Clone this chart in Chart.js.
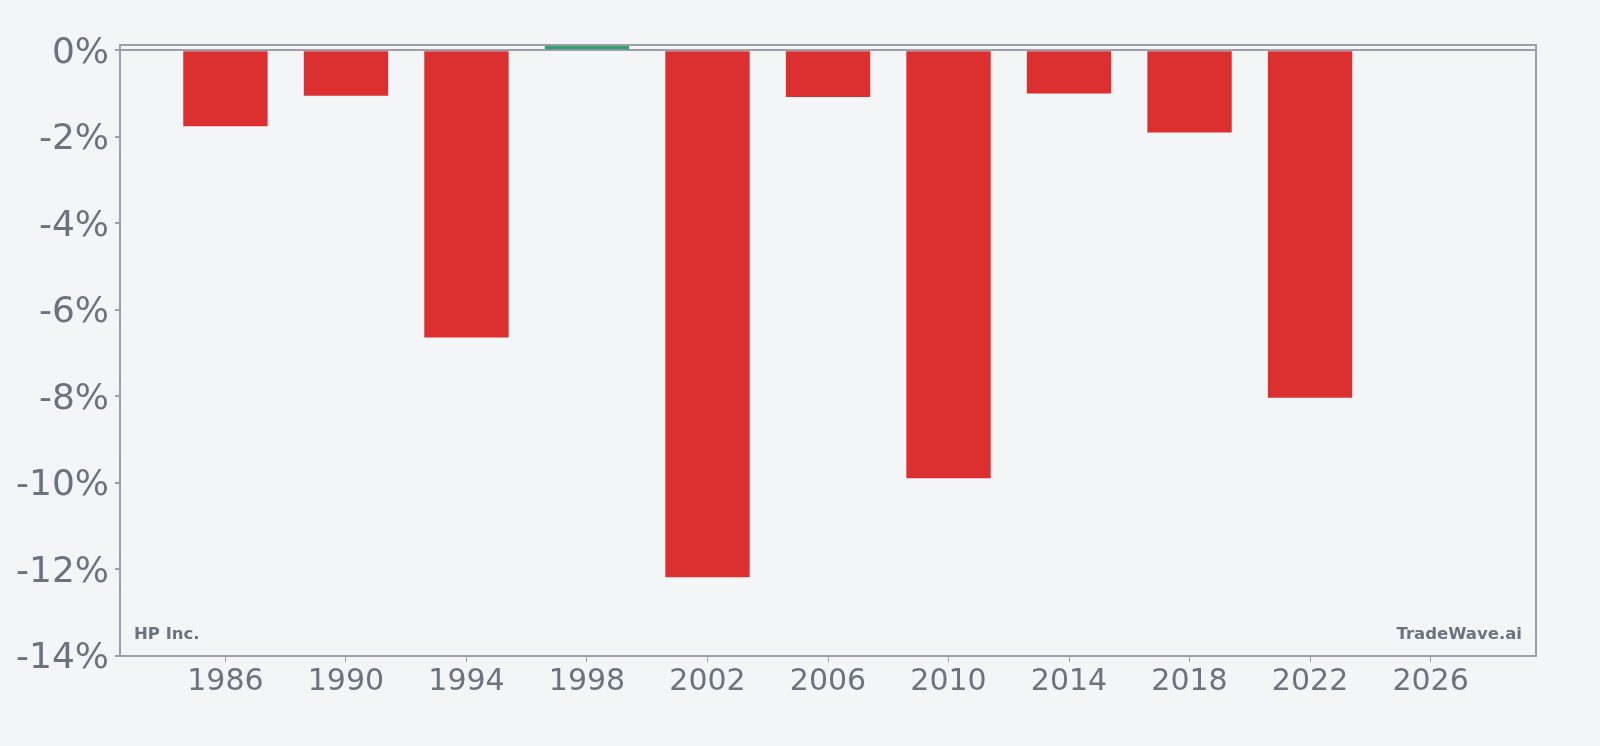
<!DOCTYPE html>
<html>
<head>
<meta charset="utf-8">
<script src="https://cdn.jsdelivr.net/npm/chart.js@4/dist/chart.umd.min.js"></script>
<style>
  html, body { margin: 0; padding: 0; background: #f4f5f7; }
  #wrap { width: 1600px; height: 746px; }
</style>
</head>
<body>
<div id="wrap"><canvas id="chart" width="1600" height="746"></canvas></div>
<script>
const years = [1986, 1990, 1994, 1998, 2002, 2006, 2010, 2014, 2018, 2022];
const changes = [-1.76, -1.05, -6.64, 0.12, -12.18, -1.08, -9.89, -1.0, -1.9, -8.03];
const xTicks = [1986, 1990, 1994, 1998, 2002, 2006, 2010, 2014, 2018, 2022, 2026];
const yTicks = [-14, -12, -10, -8, -6, -4, -2, 0];

const gray = '#9b9eab';
const textGray = '#6b7280';

const frame = {
  id: 'frame',
  beforeDraw(chart) {
    const { ctx } = chart;
    ctx.save();
    ctx.fillStyle = '#f4f5f7';
    ctx.fillRect(0, 0, chart.width, chart.height);
    ctx.restore();
  },
  afterDraw(chart) {
    const { ctx, chartArea: a } = chart;
    ctx.save();
    ctx.strokeStyle = gray;
    ctx.lineWidth = 2;
    ctx.strokeRect(a.left, a.top, a.right - a.left, a.bottom - a.top);
    ctx.fillStyle = textGray;
    ctx.font = 'bold 16.5px "DejaVu Sans"';
    ctx.textBaseline = 'middle';
    ctx.textAlign = 'left';
    ctx.fillText('HP Inc.', a.left + 14, a.bottom - 21);
    ctx.textAlign = 'right';
    ctx.fillText('TradeWave.ai', a.right - 14, a.bottom - 21);
    ctx.restore();
  }
};

new Chart(document.getElementById('chart'), {
  type: 'bar',
  data: {
    datasets: [{
      data: years.map((y, i) => ({ x: y, y: changes[i] })),
      backgroundColor: changes.map(v => v >= 0 ? '#35a06a' : '#dc3030'),
      barPercentage: 0.7,
      categoryPercentage: 1.0
    }]
  },
  options: {
    responsive: false,
    animation: false,
    layout: { padding: { top: 45, right: 64, left: 0, bottom: 0 } },
    plugins: { legend: { display: false }, tooltip: { enabled: false } },
    scales: {
      x: {
        type: 'linear',
        offset: false,
        min: 1982.5,
        max: 2029.5,
        afterBuildTicks: s => { s.ticks = xTicks.map(v => ({ value: v })); },
        afterFit: s => { s.height = 90; },
        grid: { offset: false, drawOnChartArea: false, tickLength: 6, tickColor: gray },
        border: { display: false },
        ticks: {
          color: textGray,
          font: { family: 'DejaVu Sans', size: 30 },
          padding: 2,
          maxRotation: 0,
          callback: v => String(v)
        }
      },
      y: {
        min: -14,
        max: 0.12,
        afterBuildTicks: s => { s.ticks = yTicks.map(v => ({ value: v })); },
        afterFit: s => { s.width = 120; },
        grid: {
          tickLength: 5,
          tickColor: gray,
          lineWidth: 2,
          color: c => (c.tick && c.tick.value === 0) ? gray : 'transparent'
        },
        border: { display: false },
        ticks: {
          color: textGray,
          font: { family: 'DejaVu Sans', size: 36 },
          padding: 6,
          labelOffset: 3,
          callback: v => v + '%'
        }
      }
    }
  },
  plugins: [frame]
});
</script>
</body>
</html>
